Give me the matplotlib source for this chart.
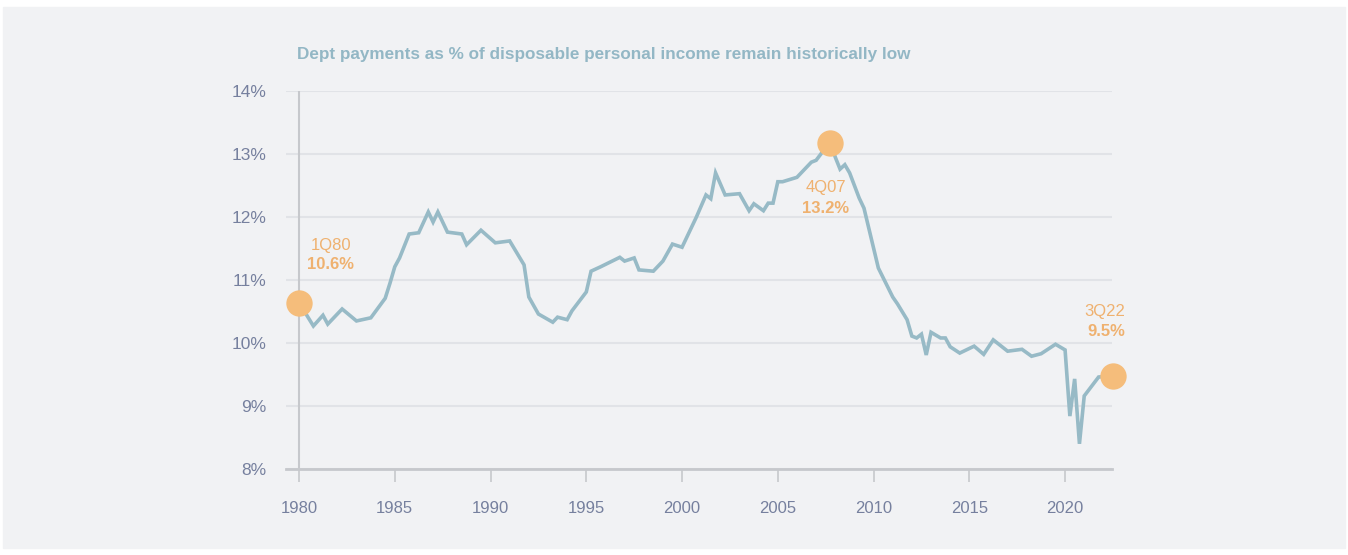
import matplotlib.pyplot as plt
import matplotlib.patches as mpatches

# quarterly-ish points (decimal year, % of DPI)
years = [1980.0, 1980.75, 1981.25, 1981.5, 1982.25, 1983.0, 1983.75, 1984.5, 1984.75, 1985.0,
         1985.25, 1985.75, 1986.25, 1986.75, 1987.0, 1987.25, 1987.75, 1988.5, 1988.75, 1989.5,
         1990.25, 1991.0, 1991.75, 1992.0, 1992.5, 1993.25, 1993.5, 1994.0, 1994.25, 1995.0,
         1995.25, 1995.75, 1996.75, 1997.0, 1997.5, 1997.75, 1998.5, 1999.0, 1999.5, 2000.0,
         2000.75, 2001.25, 2001.5, 2001.75, 2002.25, 2003.0, 2003.5, 2003.75, 2004.25, 2004.5,
         2004.75, 2005.0, 2005.25, 2006.0, 2006.75, 2007.0, 2007.25, 2007.5, 2007.75, 2008.0,
         2008.25, 2008.5, 2008.75, 2009.25, 2009.5, 2010.25, 2011.0, 2011.25, 2011.75, 2012.0,
         2012.25, 2012.5, 2012.75, 2013.0, 2013.5, 2013.75, 2014.0, 2014.5, 2015.25, 2015.75,
         2016.25, 2017.0, 2017.75, 2018.25, 2018.75, 2019.5, 2020.0, 2020.25, 2020.5, 2020.75,
         2021.0, 2021.75, 2022.5]
debt_pct = [10.64, 10.27, 10.44, 10.30, 10.54, 10.35, 10.40, 10.71, 10.95, 11.21,
            11.35, 11.73, 11.75, 12.08, 11.92, 12.08, 11.76, 11.73, 11.56, 11.79,
            11.59, 11.62, 11.24, 10.73, 10.46, 10.33, 10.41, 10.37, 10.51, 10.81,
            11.14, 11.21, 11.36, 11.30, 11.35, 11.16, 11.14, 11.30, 11.57, 11.52,
            12.00, 12.35, 12.29, 12.70, 12.35, 12.37, 12.10, 12.21, 12.10, 12.22,
            12.22, 12.56, 12.56, 12.63, 12.87, 12.90, 13.00, 13.12, 13.18, 12.95,
            12.76, 12.83, 12.70, 12.30, 12.14, 11.19, 10.73, 10.62, 10.37, 10.11,
            10.08, 10.14, 9.81, 10.17, 10.08, 10.08, 9.94, 9.84, 9.95, 9.82,
            10.05, 9.87, 9.90, 9.79, 9.83, 9.98, 9.89, 8.84, 9.43, 8.40,
            9.16, 9.46, 9.48]

# highlighted quarters
hl_years = [1980.0, 2007.75, 2022.5]
hl_values = [10.64, 13.18, 9.48]
hl_quarters = ["1Q80", "4Q07", "3Q22"]
hl_labels = ["10.6%", "13.2%", "9.5%"]

x_ticks = list(range(1980, 2021, 5))
y_ticks = [8, 9, 10, 11, 12, 13, 14]

line_color = "#97bac6"
dot_color = "#f5bd7b"
text_orange = "#efb16f"
tick_color = "#76809e"
grid_color = "#e1e3e7"
axis_color = "#c6c8cc"
panel_color = "#f1f2f4"

plt.rcParams['font.family'] = ['Liberation Sans', 'DejaVu Sans']

fig = plt.figure(figsize=(13.48, 5.55), dpi=100)
W, H = 1348, 555
fig.patches.append(mpatches.Rectangle((3 / W, 1 - 548 / H), 1342 / W, 541 / H,
                                      transform=fig.transFigure, color=panel_color, zorder=-5))

ax = fig.add_axes([286 / W, 1 - 469 / H, 826 / W, 378 / H])
ax.set_facecolor("none")
ax.set_xlim(1979.32, 2022.45)
ax.set_ylim(8, 14)

for y in y_ticks:
    ax.axhline(y, color=grid_color, lw=1.5, zorder=1)
ax.axvline(1980, ymin=0, ymax=1, color=axis_color, lw=1.5, zorder=2)

ax.plot(years, debt_pct, color=line_color, lw=2.6, zorder=3, clip_on=False,
        solid_joinstyle='miter')
ax.scatter(hl_years, hl_values, s=360, color=dot_color, zorder=4, clip_on=False, linewidths=0)

# annotations
ax.text(1981.65, 11.55, hl_quarters[0], color=text_orange, fontsize=12, ha='center', va='center')
ax.text(1981.65, 11.25, hl_labels[0], color=text_orange, fontsize=12, ha='center', va='center',
        fontweight='bold')
ax.text(2007.5, 12.47, hl_quarters[1], color=text_orange, fontsize=12, ha='center', va='center')
ax.text(2007.5, 12.14, hl_labels[1], color=text_orange, fontsize=12, ha='center', va='center',
        fontweight='bold')
ax.text(2023.15, 10.5, hl_quarters[2], color=text_orange, fontsize=12, ha='right', va='center')
ax.text(2023.15, 10.18, hl_labels[2], color=text_orange, fontsize=12, ha='right', va='center',
        fontweight='bold')

for s in ['top', 'right', 'left']:
    ax.spines[s].set_visible(False)
ax.spines['bottom'].set_color(axis_color)
ax.spines['bottom'].set_linewidth(2)
ax.spines['bottom'].set_zorder(2)

ax.set_xticks(x_ticks)
ax.set_xticklabels([str(v) for v in x_ticks])
ax.set_yticks(y_ticks)
ax.set_yticklabels([f"{v}%" for v in y_ticks])
ax.tick_params(axis='x', direction='out', length=9, width=1.2, color=axis_color,
               labelcolor=tick_color, labelsize=12, pad=14)
ax.tick_params(axis='y', length=0, labelcolor=tick_color, labelsize=12.5, pad=14)

fig.text(297 / W, 1 - 55 / H, "Dept payments as % of disposable personal income remain historically low",
         color="#93b7c5", fontsize=12.3, fontweight='bold', ha='left', va='center')

fig.savefig("out.png", dpi=100, facecolor="white")
